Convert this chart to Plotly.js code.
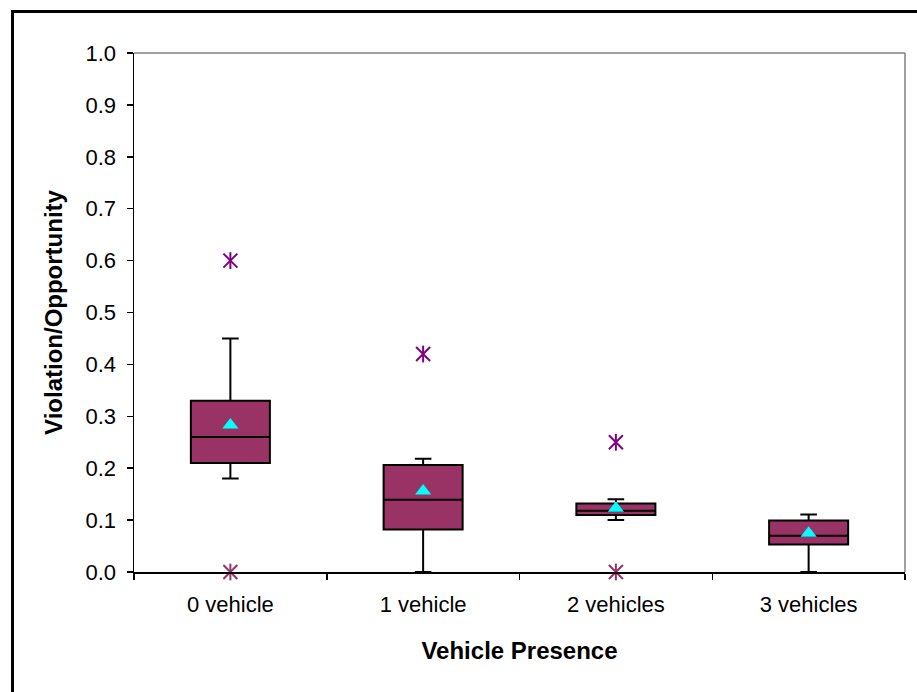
<!DOCTYPE html>
<html>
<head>
<meta charset="utf-8">
<script src="https://cdn.plot.ly/plotly-3.0.1.min.js"></script>
<style>
  html, body { margin: 0; padding: 0; background: #ffffff; }
  #frame { position: absolute; left: 11px; top: 10px; width: 1000px; height: 1000px;
           border: 3px solid #000000; box-sizing: border-box; }
  #chart { position: absolute; left: 0; top: 0; width: 917px; height: 692px; }
</style>
</head>
<body>
<div id="frame"></div>
<div id="chart"></div>
<script>
// Violation/Opportunity ratio by number of vehicles present
const categories = ['0 vehicle', '1 vehicle', '2 vehicles', '3 vehicles'];

// Box statistics per category
const whiskerLow  = [0.18, 0.00, 0.10, 0.00];
const q1          = [0.21, 0.082, 0.110, 0.053];
const median      = [0.26, 0.139, 0.118, 0.070];
const q3          = [0.33, 0.206, 0.132, 0.099];
const whiskerHigh = [0.45, 0.218, 0.140, 0.111];
const meanValue   = [0.283, 0.156, 0.123, 0.0745];

// Outlying observations
const highOutlierCat = ['0 vehicle', '1 vehicle', '2 vehicles'];
const highOutlierVal = [0.60, 0.42, 0.25];
const lowOutlierCat  = ['0 vehicle', '2 vehicles'];
const lowOutlierVal  = [0.00, 0.00];

const yTicks = [0, 0.1, 0.2, 0.3, 0.4, 0.5, 0.6, 0.7, 0.8, 0.9, 1.0];

const boxFill = '#993366';
const highColor = '#800080';
const lowColor = '#993366';

function starTraces(xs, ys, color) {
  // six-armed star: an X plus a vertical stroke
  return [
    { type: 'scatter', mode: 'markers', x: xs, y: ys, hoverinfo: 'skip', cliponaxis: false,
      marker: { symbol: 'x-thin-open', size: 14, color: color, line: { color: color, width: 2 } } },
    { type: 'scatter', mode: 'markers', x: xs, y: ys, hoverinfo: 'skip', cliponaxis: false,
      marker: { symbol: 'line-ns-open', size: 12, color: color, line: { color: color, width: 2 } } }
  ];
}

const data = [
  {
    type: 'box',
    x: categories,
    q1: q1,
    median: median,
    q3: q3,
    lowerfence: whiskerLow,
    upperfence: whiskerHigh,
    boxpoints: false,
    width: 0.41,
    whiskerwidth: 0.21,
    fillcolor: boxFill,
    line: { color: '#000000', width: 2 },
    hoverinfo: 'skip'
  },
  {
    type: 'scatter', mode: 'markers', x: categories, y: meanValue, hoverinfo: 'skip',
    marker: { symbol: 'triangle-up', size: 14, color: '#00FFFF', line: { width: 0 } }
  }
].concat(starTraces(highOutlierCat, highOutlierVal, highColor))
 .concat(starTraces(lowOutlierCat, lowOutlierVal, lowColor));

const fontFamily = 'Liberation Sans, Arial, sans-serif';

const layout = {
  width: 917,
  height: 692,
  margin: { l: 134, r: 12, t: 53, b: 120 },
  paper_bgcolor: 'rgba(0,0,0,0)',
  plot_bgcolor: '#ffffff',
  showlegend: false,
  font: { family: fontFamily, color: '#000000', size: 22 },
  xaxis: {
    type: 'category',
    categoryarray: categories,
    range: [-0.5, 3.5],
    showgrid: false,
    zeroline: false,
    showline: true,
    linecolor: '#000000',
    linewidth: 1.5,
    ticks: 'outside',
    tickson: 'boundaries',
    ticklen: 6,
    tickwidth: 1.5,
    tickcolor: '#000000',
    ticklabelstandoff: 12,
    tickfont: { family: fontFamily, size: 22, color: '#000000' },
    automargin: false,
    title: { text: 'Vehicle Presence', standoff: 26,
             font: { family: fontFamily, size: 24, color: '#000000', weight: 'bold' } }
  },
  yaxis: {
    range: [0, 1],
    tickvals: yTicks,
    tickformat: '.1f',
    showgrid: false,
    zeroline: false,
    showline: true,
    linecolor: '#000000',
    linewidth: 1.5,
    ticks: 'outside',
    ticklen: 6,
    tickwidth: 1.5,
    tickcolor: '#000000',
    ticklabelstandoff: 6,
    tickfont: { family: fontFamily, size: 22, color: '#000000' },
    automargin: false,
    title: { text: 'Violation/Opportunity', standoff: 16,
             font: { family: fontFamily, size: 24, color: '#000000', weight: 'bold' } }
  },
  shapes: [
    { type: 'line', xref: 'paper', yref: 'paper', x0: 0, x1: 1, y0: 1, y1: 1,
      line: { color: '#808080', width: 1.5 } },
    { type: 'line', xref: 'paper', yref: 'paper', x0: 1, x1: 1, y0: 0, y1: 1,
      line: { color: '#808080', width: 1.5 } }
  ]
};

Plotly.newPlot('chart', data, layout, { displayModeBar: false, staticPlot: true });
</script>
</body>
</html>
